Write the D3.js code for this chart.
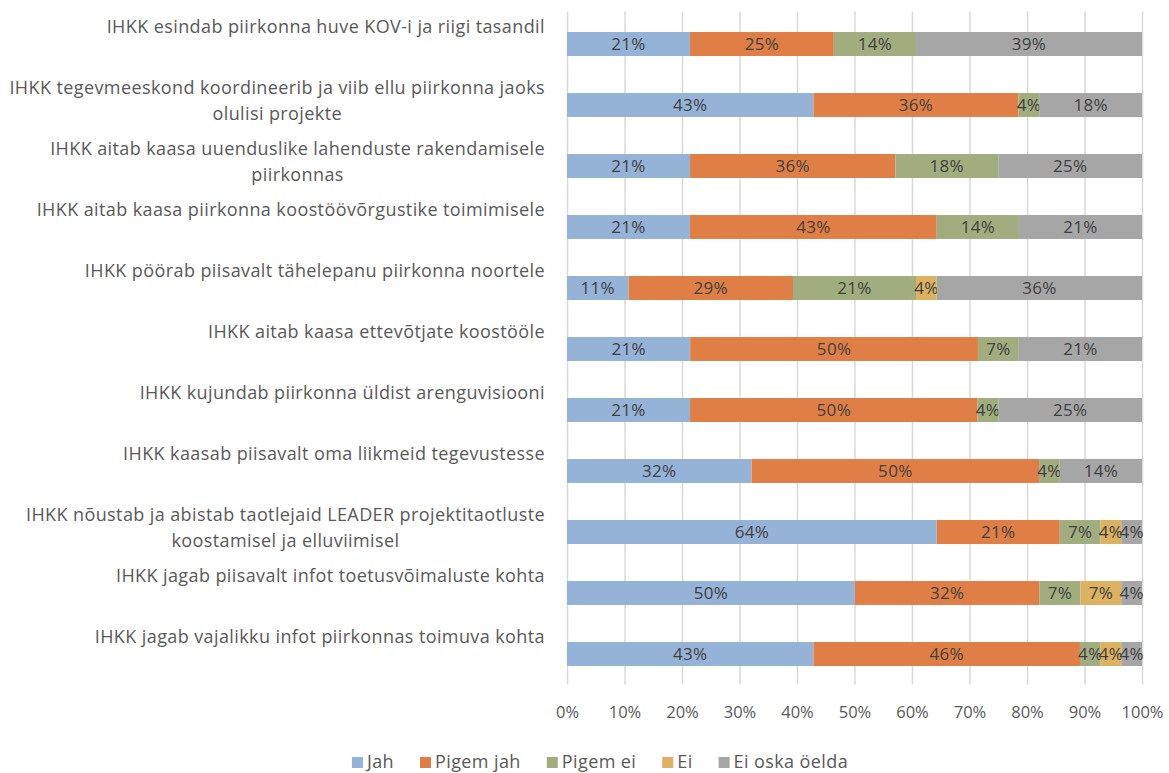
<!DOCTYPE html>
<html><head><meta charset="utf-8">
<script src="https://cdn.jsdelivr.net/npm/d3@7"></script>
<style>
html,body{margin:0;padding:0;background:#fff;}
svg{display:block;font-family:"Open Sans", Lato, sans-serif;}
</style></head>
<body><svg id="chart" width="1169" height="773"></svg>
<script>
const categories = [
  "IHKK esindab piirkonna huve KOV-i ja riigi tasandil",
  "IHKK tegevmeeskond koordineerib ja viib ellu piirkonna jaoks\nolulisi projekte",
  "IHKK aitab kaasa uuenduslike lahenduste rakendamisele\npiirkonnas",
  "IHKK aitab kaasa piirkonna koostöövõrgustike toimimisele",
  "IHKK pöörab piisavalt tähelepanu piirkonna noortele",
  "IHKK aitab kaasa ettevõtjate koostööle",
  "IHKK kujundab piirkonna üldist arenguvisiooni",
  "IHKK kaasab piisavalt oma liikmeid tegevustesse",
  "IHKK nõustab ja abistab taotlejaid LEADER projektitaotluste\nkoostamisel ja elluviimisel",
  "IHKK jagab piisavalt infot toetusvõimaluste kohta",
  "IHKK jagab vajalikku infot piirkonnas toimuva kohta"
];
const seriesNames = ["Jah", "Pigem jah", "Pigem ei", "Ei", "Ei oska öelda"];
const jah      = [21.4, 42.9, 21.4, 21.4, 10.7, 21.4, 21.4, 32.1, 64.3, 50.0, 42.9];
const pigemJah = [25.0, 35.7, 35.7, 42.9, 28.6, 50.0, 50.0, 50.0, 21.4, 32.1, 46.4];
const pigemEi  = [14.3,  3.6, 17.9, 14.3, 21.4,  7.1,  3.6,  3.6,  7.1,  7.1,  3.6];
const ei       = [ 0,    0,    0,    0,    3.6,  0,    0,    0,    3.6,  7.1,  3.6];
const eiOska   = [39.3, 17.9, 25.0, 21.4, 35.7, 21.4, 25.0, 14.3,  3.6,  3.6,  3.6];
const xTicks = [0, 0.1, 0.2, 0.3, 0.4, 0.5, 0.6, 0.7, 0.8, 0.9, 1.0];
const colors = ["#95b3d7", "#e07f45", "#a2ad7f", "#dcb260", "#a6a6a6"];

const seriesValues = [jah, pigemJah, pigemEi, ei, eiOska];
const rows = categories.map((c, i) => {
  const r = {cat: c};
  seriesNames.forEach((s, j) => r[s] = seriesValues[j][i]);
  return r;
});

const svg = d3.select("#chart");
const margin = {left: 567, right: 27, top: 13.5, bottom: 88.5};
const W = 1169, H = 773;
const x = d3.scaleLinear().domain([0, 1]).range([margin.left, W - margin.right]);
const y = d3.scaleBand().domain(categories).range([margin.top, H - margin.bottom]).paddingInner(0.607).paddingOuter(0.3035);

const stack = d3.stack().keys(seriesNames).offset(d3.stackOffsetExpand);
const stacked = stack(rows);

// gridlines + tick labels
const grid = svg.append("g").attr("transform", `translate(0,${H - margin.bottom})`)
  .call(d3.axisBottom(x).tickValues(xTicks).tickSize(-(H - margin.bottom - margin.top + 2)).tickFormat(d3.format(".0%")));
grid.select(".domain").remove();
grid.selectAll(".tick line").attr("stroke", "#d9d9d9").attr("stroke-width", 1.5);
grid.selectAll(".tick text").attr("fill", "#595959").attr("font-size", 16.5).attr("dy", 0).attr("y", 33)
  .attr("font-family", "'Open Sans', Lato, sans-serif");

// bars
const layers = svg.append("g").selectAll("g").data(stacked).join("g")
  .attr("fill", (d, i) => colors[i]);
layers.selectAll("rect").data(d => d.map(v => ({v, key: d.key}))).join("rect")
  .attr("x", d => x(d.v[0]))
  .attr("width", d => Math.max(0, x(d.v[1]) - x(d.v[0])))
  .attr("y", d => y(d.v.data.cat))
  .attr("height", y.bandwidth());

// data labels
const fmt = d3.format(".0%");
layers.selectAll("text").data(d => d.map(v => ({v, key: d.key})).filter(d => d.v.data[d.key] > 0)).join("text")
  .attr("x", d => (x(d.v[0]) + x(d.v[1])) / 2)
  .attr("y", d => y(d.v.data.cat) + y.bandwidth() / 2)
  .attr("dy", "0.36em")
  .attr("text-anchor", "middle")
  .attr("fill", "#404040")
  .attr("font-size", 17)
  .attr("letter-spacing", 0.3)
  .text(d => fmt(d.v.data[d.key] / 100));

// category labels (first line ~17px above bar centre, extra lines below, centred block right-aligned)
const labelG = svg.append("g");
categories.forEach(c => {
  const lines = c.split("\n");
  const t = labelG.append("text").attr("fill", "#595959").attr("font-size", 18)
    .attr("letter-spacing", 0.4).attr("text-anchor", "middle");
  lines.forEach((ln, k) => t.append("tspan").attr("x", 0).attr("dy", "0.36em")
    .attr("y", y(c) + y.bandwidth() / 2 - 17 + k * 25.5).text(ln));
  let maxW = 0;
  t.selectAll("tspan").each(function() { maxW = Math.max(maxW, this.getComputedTextLength()); });
  t.selectAll("tspan").attr("x", 545 - maxW / 2);
});

// legend
const legend = svg.append("g");
let lx = 0;
const gap = 26;
seriesNames.forEach((s, i) => {
  const g = legend.append("g");
  g.append("rect").attr("x", 0).attr("y", -5).attr("width", 11).attr("height", 11).attr("fill", colors[i]);
  const tx = g.append("text").attr("x", 15).attr("y", 0).attr("dy", "0.36em").attr("fill", "#595959")
    .attr("font-size", 18).attr("letter-spacing", 0.4).text(s);
  const w = 15 + tx.node().getComputedTextLength();
  g.attr("transform", `translate(${lx},0)`);
  lx += w + gap;
});
const total = lx - gap;
legend.attr("transform", `translate(${600 - total / 2},762)`);
</script></body></html>
